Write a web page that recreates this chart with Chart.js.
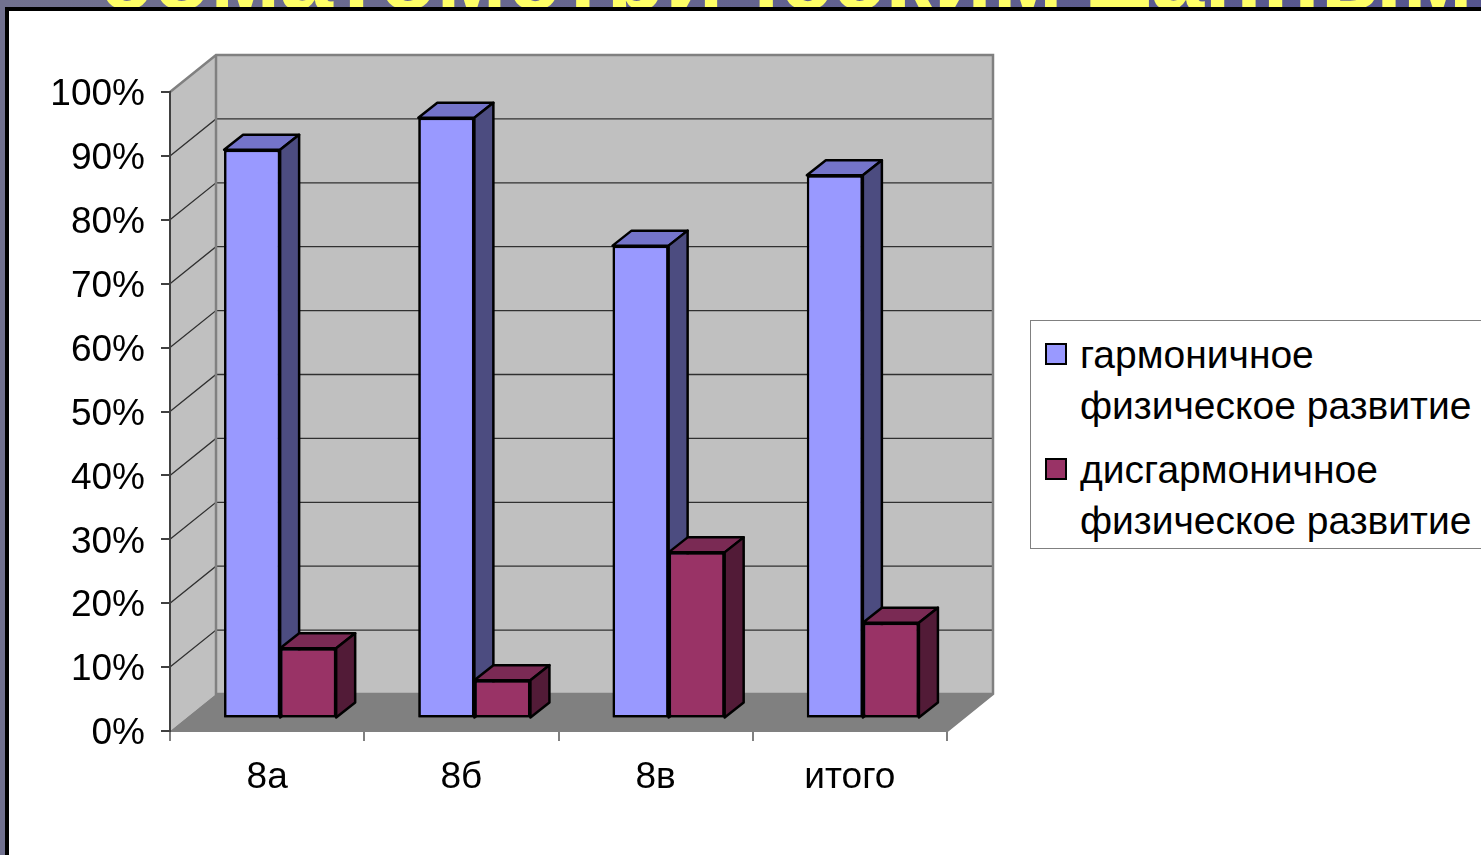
<!DOCTYPE html>
<html>
<head>
<meta charset="utf-8">
<script src="https://cdn.jsdelivr.net/npm/chart.js@4/dist/chart.umd.min.js"></script>
<style>
  html, body { margin: 0; padding: 0; width: 1481px; height: 855px; overflow: hidden; }
  body { position: relative; background: linear-gradient(to right, #71718f, #55558f); font-family: "Liberation Sans", Arial, sans-serif; }
  #title { position: absolute; left: 99px; top: -72px; font: bold 96px "Liberation Sans", Arial, sans-serif; line-height: 1; color: #ffff66; white-space: nowrap; }
  #panel { position: absolute; left: 5px; top: 7px; right: -10px; bottom: -10px; background: #fff; border-left: 4px solid #000; border-top: 4px solid #000; }
  #chart { position: absolute; left: 0; top: 0; }
  #legend { position: absolute; left: 1030px; top: 320px; width: 470px; height: 229px; box-sizing: border-box; border: 1px solid #808080; background: #fff; padding-top: 8px; }
  .item { display: flex; align-items: flex-start; margin-bottom: 13px; }
  .mark { width: 18px; height: 18px; border: 2.5px solid #000; margin: 14px 13px 0 14px; flex: none; }
  .txt { font-size: 39px; line-height: 51px; color: #000; white-space: nowrap; }
</style>
</head>
<body>
<div id="title">соматометрическим данным</div>
<div id="panel"></div>
<canvas id="chart" width="1481" height="855"></canvas>
<div id="legend"></div>
<script>
// Classes and the share of pupils in each group, %
const categories = ['8а', '8б', '8в', 'итого'];
const harmonious = [89, 94, 74, 85];
const disharmonious = [11, 6, 26, 15];
const seriesLines = [
  ['гармоничное', 'физическое развитие'],
  ['дисгармоничное', 'физическое развитие']
];
const yMax = 100;
const yStep = 10;

const FONT = '"Liberation Sans", Arial, sans-serif';
const WALL_DEPTH = { dx: 46, dy: -37 };   // offset of the back wall
const BAR_SHIFT = { dx: 13, dy: -12.5 };  // bars stand a little behind the front edge
const BAR_DEPTH = { dx: 19, dy: -15 };    // thickness of each box

// Walls, floor and the gridlines drawn on them
const wallsPlugin = {
  id: 'walls',
  beforeDraw(chart) {
    const { ctx, chartArea: a, scales: { y } } = chart;
    const d = WALL_DEPTH;
    const y0 = y.getPixelForValue(0), yTop = y.getPixelForValue(yMax);
    ctx.save();
    // left wall
    ctx.fillStyle = '#c0c0c0';
    ctx.beginPath();
    ctx.moveTo(a.left, yTop); ctx.lineTo(a.left + d.dx, yTop + d.dy);
    ctx.lineTo(a.left + d.dx, y0 + d.dy); ctx.lineTo(a.left, y0);
    ctx.closePath(); ctx.fill();
    // back wall
    ctx.fillRect(a.left + d.dx, yTop + d.dy, a.right - a.left, y0 - yTop);
    // floor
    ctx.fillStyle = '#808080';
    ctx.beginPath();
    ctx.moveTo(a.left, y0); ctx.lineTo(a.left + d.dx, y0 + d.dy);
    ctx.lineTo(a.right + d.dx, y0 + d.dy); ctx.lineTo(a.right, y0);
    ctx.closePath(); ctx.fill();
    // gridlines
    ctx.strokeStyle = '#303030';
    ctx.lineWidth = 1.3;
    for (let v = yStep; v < yMax; v += yStep) {
      const py = y.getPixelForValue(v);
      ctx.beginPath();
      ctx.moveTo(a.left, py); ctx.lineTo(a.left + d.dx, py + d.dy);
      ctx.lineTo(a.right + d.dx, py + d.dy);
      ctx.stroke();
    }
    // wall edges
    ctx.strokeStyle = '#808080';
    ctx.lineWidth = 2.5;
    ctx.beginPath();
    ctx.moveTo(a.left, yTop); ctx.lineTo(a.left + d.dx, yTop + d.dy);
    ctx.lineTo(a.right + d.dx, yTop + d.dy); ctx.lineTo(a.right + d.dx, y0 + d.dy);
    ctx.lineTo(a.right, y0);
    ctx.moveTo(a.left + d.dx, yTop + d.dy); ctx.lineTo(a.left + d.dx, y0 + d.dy);
    ctx.lineTo(a.right + d.dx, y0 + d.dy);
    ctx.stroke();
    ctx.restore();
  }
};

// Boxes: each bar is redrawn category by category, left to right,
// followed by its top and side faces so nearer boxes cover farther ones
const boxesPlugin = {
  id: 'boxes',
  beforeDatasetsDraw(chart) {
    chart.ctx.save();
    chart.ctx.translate(BAR_SHIFT.dx, BAR_SHIFT.dy);
  },
  afterDatasetsDraw(chart) {
    const ctx = chart.ctx;
    const d = BAR_DEPTH;
    const metas = chart.data.datasets.map((ds, i) => chart.getDatasetMeta(i));
    categories.forEach((c, ci) => {
      metas.forEach((meta, di) => {
        const ds = chart.data.datasets[di];
        const el = meta.data[ci];
        el.draw(ctx);
        const { x, y, base, width } = el.getProps(['x', 'y', 'base', 'width'], true);
        const l = x - width / 2, r = x + width / 2;
        ctx.save();
        ctx.lineWidth = 2.5;
        ctx.lineJoin = 'round';
        ctx.strokeStyle = '#000';
        // top face
        ctx.fillStyle = ds.topColor;
        ctx.beginPath();
        ctx.moveTo(l, y); ctx.lineTo(l + d.dx, y + d.dy);
        ctx.lineTo(r + d.dx, y + d.dy); ctx.lineTo(r, y);
        ctx.closePath(); ctx.fill(); ctx.stroke();
        // side face
        ctx.fillStyle = ds.sideColor;
        ctx.beginPath();
        ctx.moveTo(r, y); ctx.lineTo(r + d.dx, y + d.dy);
        ctx.lineTo(r + d.dx, base + d.dy); ctx.lineTo(r, base);
        ctx.closePath(); ctx.fill(); ctx.stroke();
        ctx.restore();
      });
    });
    ctx.restore();
  }
};

const barStyle = { borderColor: '#000', borderWidth: 2.5, borderSkipped: false, clip: false };

const chart = new Chart(document.getElementById('chart'), {
  type: 'bar',
  data: {
    labels: categories,
    datasets: [
      Object.assign({ label: seriesLines[0].join(' '), data: harmonious, backgroundColor: '#9999ff', topColor: '#7474ca', sideColor: '#4c4c80' }, barStyle),
      Object.assign({ label: seriesLines[1].join(' '), data: disharmonious, backgroundColor: '#993366', topColor: '#7a2a54', sideColor: '#521b37' }, barStyle)
    ]
  },
  options: {
    responsive: false,
    animation: false,
    devicePixelRatio: 1,
    layout: { padding: { top: 92, right: 534, left: 0, bottom: 0 } },
    datasets: { bar: { categoryPercentage: 0.577, barPercentage: 1 } },
    plugins: { legend: { display: false }, tooltip: { enabled: false } },
    scales: {
      x: {
        grid: { drawOnChartArea: false, tickLength: 10, color: '#808080', lineWidth: 2, offset: true },
        border: { display: true, color: '#808080', width: 2 },
        ticks: { color: '#000', font: { family: FONT, size: 37 }, padding: 15 },
        afterFit(s) { s.height = 124; }
      },
      y: {
        min: 0, max: yMax,
        grid: { drawOnChartArea: false, tickLength: 9, color: '#404040', lineWidth: 2 },
        border: { display: true, color: '#404040', width: 2 },
        ticks: { stepSize: yStep, color: '#000', font: { family: FONT, size: 37 }, padding: 16, labelOffset: 3, callback: v => v + '%' },
        afterFit(s) { s.width = 170; }
      }
    }
  },
  plugins: [wallsPlugin, boxesPlugin]
});

// Legend built from the dataset colours and names
const legend = document.getElementById('legend');
chart.data.datasets.forEach((ds, i) => {
  const item = document.createElement('div');
  item.className = 'item';
  const mark = document.createElement('div');
  mark.className = 'mark';
  mark.style.background = ds.backgroundColor;
  const txt = document.createElement('div');
  txt.className = 'txt';
  seriesLines[i].forEach(line => {
    const row = document.createElement('div');
    row.textContent = line;
    txt.appendChild(row);
  });
  item.appendChild(mark);
  item.appendChild(txt);
  legend.appendChild(item);
});
</script>
</body>
</html>
